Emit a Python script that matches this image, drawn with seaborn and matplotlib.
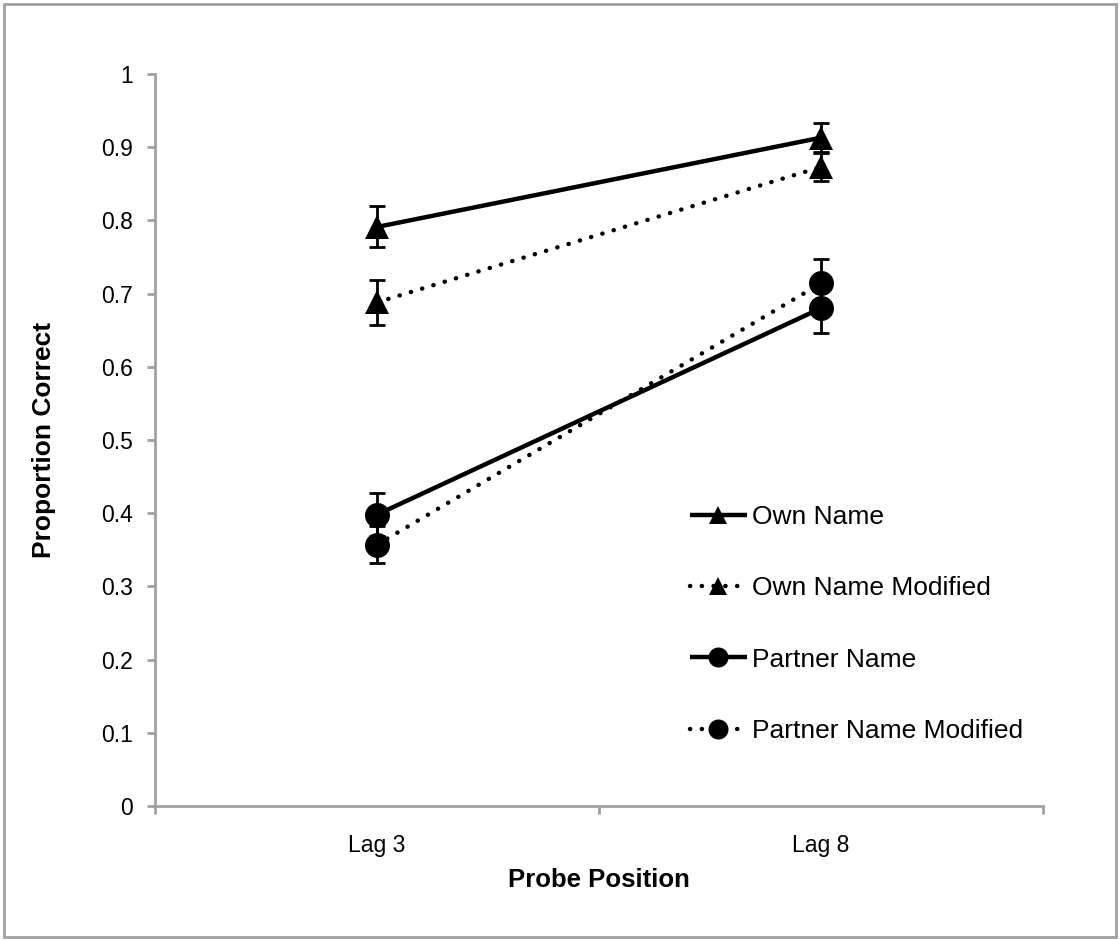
import pandas as pd
import matplotlib.pyplot as plt
import seaborn as sns
from matplotlib.patches import Rectangle

# ------------------------------
# data
# ------------------------------
lags = ["Lag 3", "Lag 8"]
series = ["Own Name", "Own Name Modified", "Partner Name", "Partner Name Modified"]
own_name = [0.791, 0.913]
own_name_mod = [0.688, 0.873]
partner_name = [0.398, 0.680]
partner_name_mod = [0.357, 0.714]
own_name_err = [0.028, 0.020]
own_name_mod_err = [0.031, 0.019]
partner_name_err = [0.029, 0.034]
partner_name_mod_err = [0.025, 0.033]

values = [own_name, own_name_mod, partner_name, partner_name_mod]
errors = [own_name_err, own_name_mod_err, partner_name_err, partner_name_mod_err]

df = pd.DataFrame({
    "lag": lags * len(series),
    "series": [s for s in series for _ in lags],
    "prop": [v for vals in values for v in vals],
    "err": [e for errs in errors for e in errs],
})

sns.set_theme(style="white")
plt.rcParams["font.family"] = ["Liberation Sans", "DejaVu Sans"]
plt.rcParams["text.color"] = "black"
plt.rcParams["axes.labelcolor"] = "black"

fig = plt.figure(figsize=(11.2, 9.4), dpi=100)
ax = fig.add_axes([0.1384, 0.1426, 0.7929, 0.7787])

dotted = (0, (0.05, 2.6))
styles = {
    "Own Name": dict(ls="-", marker="^", ms=17),
    "Own Name Modified": dict(ls=dotted, marker="^", ms=17),
    "Partner Name": dict(ls="-", marker="o", ms=18),
    "Partner Name Modified": dict(ls=dotted, marker="o", ms=18),
}

for name in series:
    sub = df[df["series"] == name]
    st = styles[name]
    ax.errorbar(sub["lag"], sub["prop"], yerr=sub["err"], fmt="none",
                ecolor="black", elinewidth=2, capsize=6, capthick=2, zorder=2)
    sns.lineplot(data=sub, x="lag", y="prop", ax=ax, color="black",
                 linestyle=st["ls"], linewidth=3.2, marker=st["marker"],
                 markersize=st["ms"], markeredgewidth=0, dash_capstyle="round",
                 solid_capstyle="butt", label=name, zorder=3)

ax.set_xlim(-0.5, 1.5)
ax.set_ylim(0, 1)
ax.set_yticks([i / 10 for i in range(11)])
ax.set_yticklabels(["0"] + [f"{i/10:.1f}" for i in range(1, 10)] + ["1"])
ax.set_xticks([0, 1])
ax.set_xticks([-0.5, 0.5, 1.5], minor=True)
ax.tick_params(axis="x", which="major", length=0, pad=20, labelsize=16.5,
               labelcolor="black")
ax.tick_params(axis="x", which="minor", length=6, width=2, color="#a0a0a0",
               direction="out", bottom=True)
ax.tick_params(axis="y", length=6, width=2, color="#a0a0a0", direction="out",
               left=True, pad=10, labelsize=16.5, labelcolor="black")

for side in ["top", "right"]:
    ax.spines[side].set_visible(False)
for side in ["left", "bottom"]:
    ax.spines[side].set_color("#a0a0a0")
    ax.spines[side].set_linewidth(2)

ax.set_xlabel("Probe Position", fontsize=18.5, fontweight="bold", labelpad=8)
ax.set_ylabel("Proportion Correct", fontsize=19, fontweight="bold", labelpad=32)

leg = ax.legend(loc="upper left", bbox_to_anchor=(0.6025, 0.411), frameon=False,
                fontsize=19, handlelength=2.15, handletextpad=0.2,
                labelspacing=1.79, borderpad=0, borderaxespad=0)
for h in leg.legend_handles:
    h.set_markersize(h.get_markersize() * 0.8)

# grey frame around the whole chart
fig.patches.append(Rectangle((0.004, 0.003), 0.992, 0.993, transform=fig.transFigure,
                             fill=False, edgecolor="#a0a0a0", linewidth=2))

fig.savefig("out.png", dpi=100)
